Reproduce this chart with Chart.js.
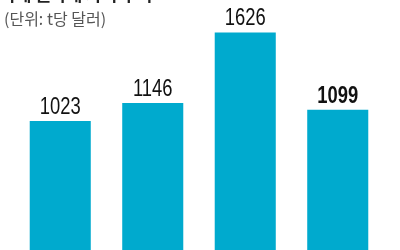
<!DOCTYPE html>
<html>
<head>
<meta charset="utf-8">
<script src="https://cdn.jsdelivr.net/npm/chart.js@4"></script>
<style>
  html, body { margin: 0; padding: 0; background: #fff; }
  #wrap { width: 400px; height: 250px; }
</style>
</head>
<body>
<div id="wrap"><canvas id="chartCanvas" width="400" height="250"></canvas></div>
<script>
// data
const categories = ['2019', '2020', '2021', '2022'];
const values = [1023, 1146, 1626, 1099];
const titleText = '국제 원자재 가격 추이';
const unitText = '(단위: t당 달러)';

const barColor = 'rgb(0,170,206)';

// labels above bars + title/unit text
const labelPlugin = {
  id: 'labels',
  afterDatasetsDraw(chart) {
    const ctx = chart.ctx;
    const meta = chart.getDatasetMeta(0);
    ctx.save();
    ctx.fillStyle = '#111';
    ctx.textAlign = 'center';
    ctx.textBaseline = 'alphabetic';
    meta.data.forEach((bar, i) => {
      const last = i === meta.data.length - 1;
      ctx.font = (last ? 'bold ' : '') + '23px "Liberation Sans", sans-serif';
      // condensed digits like the original
      ctx.save();
      ctx.translate(bar.x, bar.y - 7);
      ctx.scale(0.8, 1);
      ctx.fillText(values[i], 0, 0);
      ctx.restore();
    });

    // title (cut off at top) and unit
    ctx.textAlign = 'left';
    ctx.fillStyle = '#222';
    ctx.font = 'bold 17px "Noto Sans CJK KR", sans-serif';
    ctx.fillText(titleText, 0, 1);
    ctx.fillStyle = '#555';
    ctx.font = '16px "Noto Sans CJK KR", sans-serif';
    ctx.fillText(unitText, 4, 25);
    ctx.restore();
  }
};

const ctx = document.getElementById('chartCanvas').getContext('2d');
new Chart(ctx, {
  type: 'bar',
  data: {
    labels: categories,
    datasets: [{
      data: values,
      backgroundColor: barColor,
      borderWidth: 0,
      categoryPercentage: 1,
      barPercentage: 0.66
    }]
  },
  options: {
    responsive: false,
    animation: false,
    layout: { padding: { left: 14, right: 16, top: 0, bottom: 0 } },
    plugins: { legend: { display: false }, tooltip: { enabled: false } },
    scales: {
      x: { display: false },
      y: { display: false, min: 144, max: 1847 }
    }
  },
  plugins: [labelPlugin]
});
</script>
</body>
</html>
